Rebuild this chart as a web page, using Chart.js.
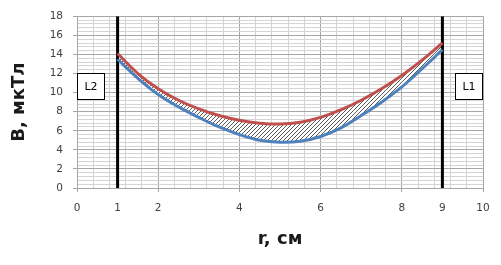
<!DOCTYPE html>
<html>
<head>
<meta charset="utf-8">
<script src="https://cdn.jsdelivr.net/npm/chart.js@4"></script>
<style>
    html, body { margin: 0; padding: 0; background: #ffffff; }
    #wrap { width: 501px; height: 265px; }
</style>
</head>
<body>
<div id="wrap"><canvas id="myChart" width="501" height="265"></canvas></div>
<script>
// r, cm positions of the read points
const rValues = [1, 1.5, 2, 2.5, 3, 3.5, 4, 4.5, 5, 5.5, 6, 6.5, 7, 7.5, 8, 8.5, 9];
// upper curve (red)
const redValues = [14.1, 12.0, 10.4, 9.2, 8.3, 7.6, 7.1, 6.8, 6.7, 6.9, 7.4, 8.2, 9.2, 10.4, 11.8, 13.4, 15.2];
// lower curve (blue)
const blueValues = [13.5, 11.5, 9.8, 8.5, 7.4, 6.4, 5.6, 5.0, 4.8, 4.9, 5.4, 6.3, 7.6, 9.0, 10.6, 12.5, 14.5];
// conductor positions
const wireL2 = 1;
const wireL1 = 9;
const xLabels = [0, 1, 2, 4, 6, 8, 9, 10];
const yMax = 18;
const xMax = 10;
const minorStep = 0.4;

function makeHatch() {
    const c = document.createElement('canvas');
    c.width = 4;
    c.height = 4;
    const g = c.getContext('2d');
    g.fillStyle = '#ffffff';
    g.fillRect(0, 0, 4, 4);
    g.strokeStyle = '#5a5a5a';
    g.lineWidth = 1;
    g.beginPath();
    g.moveTo(0, 4); g.lineTo(4, 0);
    g.moveTo(-1, 1); g.lineTo(1, -1);
    g.moveTo(3, 5); g.lineTo(5, 3);
    g.stroke();
    return g.createPattern(c, 'repeat');
}

function toPoints(xs, ys) {
    return xs.map((x, i) => ({ x: x, y: ys[i] }));
}

function isMajor(v) {
    return Math.abs(v / 2 - Math.round(v / 2)) < 1e-6;
}

// L1 / L2 boxes, placed in data units
const wireBoxes = [
    { text: 'L2', x0: 0, x1: 0.7, y0: 9.3, y1: 12.1 },
    { text: 'L1', x0: 9.3, x1: 10, y0: 9.3, y1: 12.1 }
];

const boxPlugin = {
    id: 'wireBoxes',
    afterDatasetsDraw(chart) {
        const ctx = chart.ctx;
        const xs = chart.scales.x;
        const ys = chart.scales.y;
        ctx.save();
        wireBoxes.forEach(b => {
            const left = Math.round(xs.getPixelForValue(b.x0)) + 0.5;
            const right = Math.round(xs.getPixelForValue(b.x1)) - 0.5;
            const top = Math.round(ys.getPixelForValue(b.y1)) + 0.5;
            const bottom = Math.round(ys.getPixelForValue(b.y0)) + 0.5;
            ctx.fillStyle = '#ffffff';
            ctx.fillRect(left, top, right - left, bottom - top);
            ctx.strokeStyle = '#000000';
            ctx.lineWidth = 1;
            ctx.strokeRect(left, top, right - left, bottom - top);
            ctx.fillStyle = '#000000';
            ctx.font = '11px "DejaVu Sans"';
            ctx.textAlign = 'center';
            ctx.textBaseline = 'middle';
            ctx.fillText(b.text, (left + right) / 2, (top + bottom) / 2 + 1);
        });
        ctx.restore();
    }
};

const ctx = document.getElementById('myChart');
const myChart = new Chart(ctx, {
    type: 'line',
    data: {
        datasets: [
            {
                label: 'upper',
                data: toPoints(rValues, redValues),
                borderColor: '#c0504d',
                borderWidth: 3,
                pointRadius: 0,
                tension: 0.4,
                fill: '+1',
                backgroundColor: makeHatch()
            },
            {
                label: 'lower',
                data: toPoints(rValues, blueValues),
                borderColor: '#4f81bd',
                borderWidth: 3,
                pointRadius: 0,
                tension: 0.4,
                fill: false
            },
            {
                label: 'L2',
                data: [{ x: wireL2, y: 0 }, { x: wireL2, y: yMax }],
                borderColor: '#000000',
                borderWidth: 3,
                pointRadius: 0,
                fill: false
            },
            {
                label: 'L1',
                data: [{ x: wireL1, y: 0 }, { x: wireL1, y: yMax }],
                borderColor: '#000000',
                borderWidth: 3,
                pointRadius: 0,
                fill: false
            }
        ]
    },
    options: {
        responsive: false,
        animation: false,
        layout: { padding: { top: 11, right: 18, left: 0, bottom: 0 } },
        plugins: {
            legend: { display: false },
            tooltip: { enabled: false },
            // hatch under all lines, so both curves stay fully visible
            filler: { drawTime: 'beforeDatasetsDraw' }
        },
        scales: {
            x: {
                type: 'linear',
                min: 0,
                max: xMax,
                afterBuildTicks(scale) {
                    const t = [];
                    for (let i = 0; i <= Math.round(xMax / minorStep); i++) {
                        t.push(Math.round(i * minorStep * 100) / 100);
                    }
                    t.push(wireL2, wireL1);
                    t.sort((a, b) => a - b);
                    scale.ticks = t.map(v => ({ value: v }));
                },
                afterFit(scale) { scale.height = 77; },
                ticks: {
                    autoSkip: false,
                    maxRotation: 0,
                    padding: 10,
                    color: '#404040',
                    font: { family: 'DejaVu Sans', size: 10.5 },
                    callback: v => xLabels.includes(v) ? String(v) : ''
                },
                grid: {
                    color: c => {
                        const v = c.tick ? c.tick.value : 0;
                        if (v === wireL2 || v === wireL1) return 'rgba(0,0,0,0)';
                        return isMajor(v) ? '#a6a6a6' : '#d4d4d4';
                    },
                    tickColor: c => (c.tick && isMajor(c.tick.value)) ? '#a6a6a6' : 'rgba(0,0,0,0)',
                    tickLength: 4
                },
                border: { color: '#a6a6a6' },
                title: {
                    display: true,
                    text: 'r, см',
                    color: '#1a1a1a',
                    font: { family: 'DejaVu Sans', size: 18, weight: 'bold' },
                    padding: { top: 0, bottom: 15 }
                }
            },
            y: {
                type: 'linear',
                min: 0,
                max: yMax,
                afterBuildTicks(scale) {
                    const t = [];
                    for (let i = 0; i <= Math.round(yMax / minorStep); i++) {
                        t.push({ value: Math.round(i * minorStep * 100) / 100 });
                    }
                    scale.ticks = t;
                },
                afterFit(scale) { scale.width = 77; },
                ticks: {
                    autoSkip: false,
                    padding: 10,
                    color: '#404040',
                    font: { family: 'DejaVu Sans', size: 10.5 },
                    callback: v => isMajor(v) ? String(Math.round(v)) : ''
                },
                grid: {
                    color: c => (c.tick && isMajor(c.tick.value)) ? '#a6a6a6' : '#d4d4d4',
                    tickColor: c => (c.tick && isMajor(c.tick.value)) ? '#a6a6a6' : 'rgba(0,0,0,0)',
                    tickLength: 4
                },
                border: { color: '#a6a6a6' },
                title: {
                    display: true,
                    text: 'B, мкТл',
                    color: '#1a1a1a',
                    font: { family: 'DejaVu Sans', size: 18, weight: 'bold' },
                    padding: { top: 9, bottom: 0 }
                }
            }
        }
    },
    plugins: [boxPlugin]
});
</script>
</body>
</html>
